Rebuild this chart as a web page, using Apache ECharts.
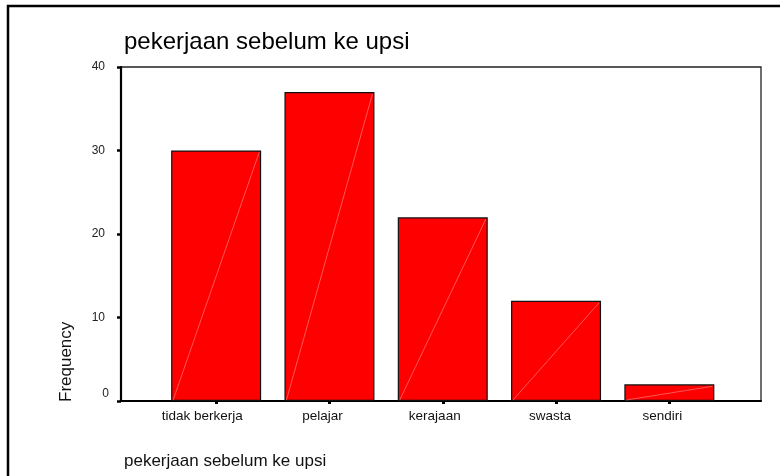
<!DOCTYPE html>
<html>
<head>
<meta charset="utf-8">
<script src="https://cdn.jsdelivr.net/npm/echarts@6/dist/echarts.min.js"></script>
<style>html,body{margin:0;padding:0;background:#fff;}#c{width:780px;height:476px;}</style>
</head>
<body>
<div id="c"></div>
<script>
const titleText = 'pekerjaan sebelum ke upsi';
const xAxisTitle = 'pekerjaan sebelum ke upsi';
const yAxisTitle = 'Frequency';
const categories = ['tidak berkerja', 'pelajar', 'kerajaan', 'swasta', 'sendiri'];
const frequencies = [30, 37, 22, 12, 2];
const yTicks = [0, 10, 20, 30, 40];

const FONT = '"Liberation Sans", Arial, Helvetica, sans-serif';
const chart = echarts.init(document.getElementById('c'), null, {renderer: 'canvas'});

const frameGrid = {left: 121, right: 19, top: 67, bottom: 75, show: true, borderColor: '#222', borderWidth: 1.3, backgroundColor: 'transparent'};
const barGrid = {left: 159.5, right: 54, top: 67, bottom: 75};

// category labels sit slightly left of their tick in the original (SPSS style)
const catRich = {};
categories.forEach(function (c, i) {
  catRich['c' + i] = {fontFamily: FONT, fontSize: 13.5, color: '#111', padding: [0, Math.round(c.length * 2), 0, 0]};
});

chart.setOption({
  animation: false,
  backgroundColor: '#fff',
  title: [
    {text: titleText, left: 119, top: 25, textStyle: {fontFamily: FONT, fontSize: 24, fontWeight: 'normal', color: '#000'}},
    {text: xAxisTitle, left: 119, top: 448, textStyle: {fontFamily: FONT, fontSize: 17, fontWeight: 'normal', color: '#111'}}
  ],
  graphic: [
    {type: 'polyline', shape: {points: [[8, 476], [8, 6], [780, 6]]}, style: {stroke: '#000', lineWidth: 2.5, fill: null}, z: 100},
    {type: 'text', x: 66, y: 402, rotation: Math.PI / 2, style: {text: yAxisTitle, font: '17px ' + FONT, fill: '#111', align: 'left', verticalAlign: 'middle'}}
  ],
  grid: [frameGrid, barGrid],
  xAxis: [
    {gridIndex: 0, type: 'value', min: 0, max: 1, axisLine: {show: true, onZero: false, lineStyle: {color: '#000', width: 2}}, axisTick: {show: false}, axisLabel: {show: false}, splitLine: {show: false}},
    {gridIndex: 1, type: 'category', data: categories, boundaryGap: true,
     axisLine: {show: false}, axisTick: {show: true, alignWithLabel: true, length: 3, lineStyle: {color: '#000', width: 3}},
     axisLabel: {margin: 8, fontFamily: FONT, fontSize: 13.5, color: '#111', interval: 0,
       formatter: function (v, i) { return '{c' + i + '|' + v + '}'; }, rich: catRich},
     splitLine: {show: false}}
  ],
  yAxis: [
    {gridIndex: 0, type: 'value', min: yTicks[0], max: yTicks[yTicks.length - 1], interval: yTicks[1] - yTicks[0],
     axisLine: {show: true, lineStyle: {color: '#000', width: 2.2}},
     axisTick: {show: true, length: 4, lineStyle: {color: '#000', width: 2.5}},
     splitLine: {show: false},
     axisLabel: {margin: 12, fontFamily: FONT, fontSize: 12, color: '#222',
       formatter: function (v) { return v === 0 ? '{z|0}' : '{n|' + v + '}'; },
       rich: {
         z: {fontFamily: FONT, fontSize: 12, color: '#222', padding: [0, 0, 14, 0]},
         n: {fontFamily: FONT, fontSize: 12, color: '#222', padding: [0, 4, 0, 0]}
       }}},
    {gridIndex: 1, type: 'value', min: yTicks[0], max: yTicks[yTicks.length - 1], show: false, splitLine: {show: false}}
  ],
  series: [
    {type: 'bar', xAxisIndex: 1, yAxisIndex: 1, data: frequencies, barWidth: 90,
     itemStyle: {color: '#ff0000', borderColor: '#111', borderWidth: 1.2}},
    {type: 'custom', xAxisIndex: 1, yAxisIndex: 1, data: frequencies.map(function (v, i) { return [i, v]; }), silent: true, z: 3,
     renderItem: function (params, api) {
       const top = api.coord([api.value(0), api.value(1)]);
       const base = api.coord([api.value(0), 0]);
       const half = 45;
       return {type: 'line', shape: {x1: base[0] - half + 2, y1: base[1] - 1, x2: top[0] + half - 2, y2: top[1] + 2},
               style: {stroke: 'rgba(255,170,170,0.85)', lineWidth: 0.6}};
     }}
  ]
});
</script>
</body>
</html>
